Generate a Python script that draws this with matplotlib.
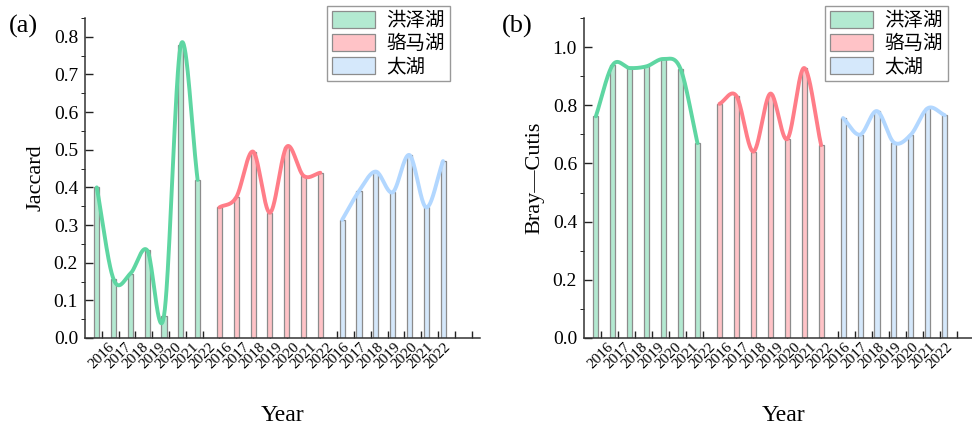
import numpy as np
import matplotlib
matplotlib.use("Agg")
import matplotlib.pyplot as plt
from matplotlib.patches import Patch

plt.rcParams["font.family"] = ["Liberation Serif", "Noto Sans CJK SC"]

years = ["2016", "2017", "2018", "2019", "2020", "2021", "2022"]
lakes = ["洪泽湖", "骆马湖", "太湖"]

# Jaccard index, one list per lake (2016-2022)
jac_hongze = [0.400, 0.156, 0.171, 0.233, 0.059, 0.778, 0.420]
jac_luoma = [0.347, 0.374, 0.495, 0.333, 0.508, 0.431, 0.439]
jac_taihu = [0.314, 0.390, 0.442, 0.387, 0.486, 0.347, 0.470]

# Bray-Curtis, same layout
bc_hongze = [0.762, 0.939, 0.928, 0.934, 0.959, 0.925, 0.670]
bc_luoma = [0.805, 0.832, 0.641, 0.840, 0.684, 0.928, 0.663]
bc_taihu = [0.756, 0.699, 0.780, 0.672, 0.699, 0.790, 0.766]

FILL = ["#b3e9d1", "#ffc3c7", "#d5e8fb"]
LINE = ["#5ed6a2", "#ff7d88", "#b2d7ff"]
EDGE = "#8c8c8c"


def smooth(x, y, n=40):
    """Catmull-Rom style hermite curve through the points (less overshoot than a natural spline)"""
    x = np.asarray(x, float); y = np.asarray(y, float)
    m = np.empty_like(y)
    m[1:-1] = (y[2:] - y[:-2]) / (x[2:] - x[:-2])
    m[0] = (y[1] - y[0]) / (x[1] - x[0])
    m[-1] = (y[-1] - y[-2]) / (x[-1] - x[-2])
    xs_all, ys_all = [], []
    for i in range(len(x) - 1):
        h = x[i + 1] - x[i]
        t = np.linspace(0, 1, n, endpoint=(i == len(x) - 2))
        h00 = 2 * t**3 - 3 * t**2 + 1; h10 = t**3 - 2 * t**2 + t
        h01 = -2 * t**3 + 3 * t**2; h11 = t**3 - t**2
        xs_all.append(x[i] + t * h)
        ys_all.append(h00 * y[i] + h10 * h * m[i] + h01 * y[i + 1] + h11 * h * m[i + 1])
    return np.concatenate(xs_all), np.concatenate(ys_all)


def panel(ax, series, ylim, major, minor, ylabel, letter, lx, legend_x):
    w = 0.3
    offs = [-w, 0.0, w]
    for g, vals in enumerate(series):
        pos = np.arange(len(vals)) + 7 * g + offs[g]
        ax.bar(pos, vals, width=w, color=FILL[g], edgecolor=EDGE, linewidth=0.9, zorder=2)
        xs, ys = smooth(pos, vals)
        ax.plot(xs, ys, color=LINE[g], lw=2.8, zorder=3, solid_capstyle="round")

    ax.set_xlim(-1, 22.5)
    ax.set_ylim(*ylim)
    ax.set_xticks(np.arange(23))
    ax.set_xticklabels(years * 3 + ["", ""], rotation=45, ha="center", va="top", fontsize=11)
    ax.set_yticks(np.arange(0, ylim[1] + 1e-9, major))
    ax.set_yticks(np.arange(0, ylim[1] + 1e-9, minor), minor=True)
    ax.yaxis.set_major_formatter(plt.FormatStrFormatter("%.1f"))
    ax.tick_params(axis="both", direction="in", width=1.0, color="#222222")
    ax.tick_params(axis="y", which="major", length=6, labelsize=14, pad=5)
    ax.tick_params(axis="y", which="minor", length=3)
    ax.tick_params(axis="x", length=5, pad=2)
    for s in ["top", "right"]:
        ax.spines[s].set_visible(False)
    for s in ["left", "bottom"]:
        ax.spines[s].set_linewidth(1.1)
        ax.spines[s].set_color("#333333")
    ax.set_ylabel(ylabel, fontsize=16, labelpad=6)
    ax.set_xlabel("Year", fontsize=17)
    ax.xaxis.set_label_coords(0.5, -0.21)

    handles = [Patch(facecolor=FILL[i], edgecolor=EDGE, linewidth=0.9) for i in range(3)]
    fig.legend(handles, lakes, loc="upper right", bbox_to_anchor=(legend_x / 972, 1 - 6 / 428),
               fontsize=14, frameon=True, fancybox=False, edgecolor="#999999", framealpha=1,
               handlelength=2.2, handleheight=1.0, labelspacing=0.18, borderpad=0.25,
               handletextpad=0.6, borderaxespad=0)
    fig.text(lx / 972, 1 - 26 / 428, letter, fontsize=19, va="center", ha="left")


fig = plt.figure(figsize=(9.72, 4.28), dpi=100)
ax1 = fig.add_axes([85 / 972, 1 - 338 / 428, 395 / 972, 320 / 428])
ax2 = fig.add_axes([584 / 972, 1 - 338 / 428, 398 / 972, 320 / 428])

panel(ax1, [jac_hongze, jac_luoma, jac_taihu], (0, 0.85), 0.1, 0.05, "Jaccard", "(a)", 9, 450)
panel(ax2, [bc_hongze, bc_luoma, bc_taihu], (0, 1.1), 0.2, 0.1, "Bray\u2014Cutis", "(b)", 502, 948)

fig.savefig("out.png", dpi=100)
